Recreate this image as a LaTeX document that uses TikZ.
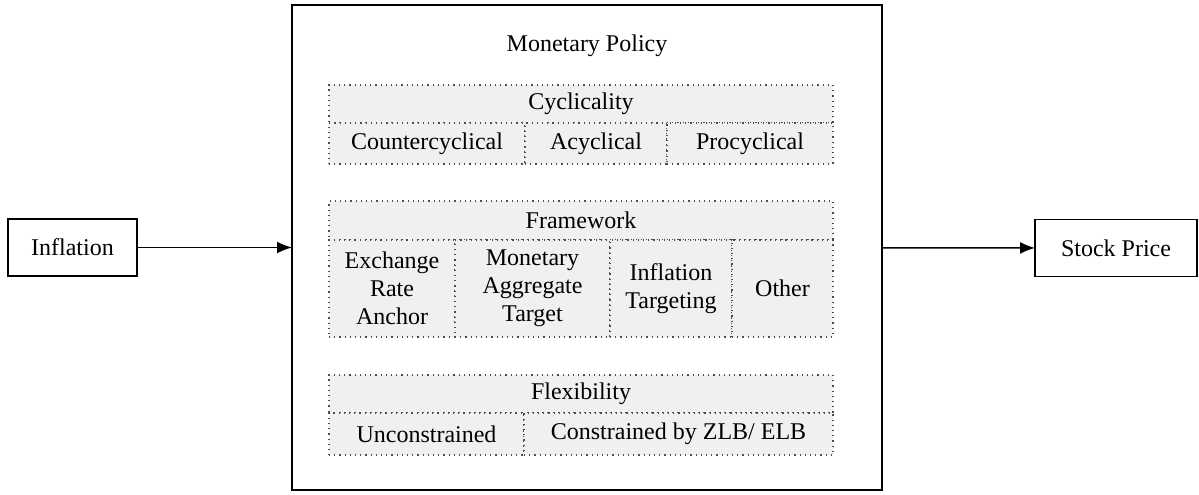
\documentclass[tikz,border=0pt]{standalone}
\usepackage{fontspec}
\setmainfont{Liberation Serif}
\usetikzlibrary{arrows.meta}
\begin{document}
\begin{tikzpicture}[x=0.5pt,y=-0.5pt,font=\fontsize{12}{14}\selectfont,
    box/.style={draw,line width=0.75pt,inner sep=0pt,outer sep=0pt,minimum height=28.5pt},
    cell/.style={draw=black!70,dotted,line width=0.6pt,fill=black!6,inner sep=0pt,outer sep=0pt,align=center},
    arr/.style={-{Latex[length=7.5pt,width=6pt]},line width=0.75pt}]
    \useasboundingbox (0,0) rectangle (1199,494);
    \node[box,minimum width=64.5pt] (infl) at (72.5,247.5) {Inflation};
    \node[box,minimum width=81pt] (stock) at (1116,248) {Stock Price};
    \node[draw,line width=1pt,inner sep=0pt,outer sep=0pt,minimum width=295pt,minimum height=242.5pt] (mp) at (587,247.5) {};
    \node (mptitle) at (587,46) {Monetary Policy};
    \node[cell,minimum width=252pt,minimum height=19pt] (cyc) at (581,104) {Cyclicality};
    \node[cell,minimum width=98pt,minimum height=20.5pt] (counter) at (427,143.5) {Countercyclical};
    \node[cell,minimum width=71pt,minimum height=20.5pt] (acyc) at (596,143.5) {Acyclical};
    \node[cell,minimum width=83pt,minimum height=20.5pt] (procyc) at (750,143.5) {Procyclical};
    \node[cell,minimum width=252pt,minimum height=19.5pt] (frame) at (581,220.5) {Framework};
    \node[cell,minimum width=63pt,minimum height=48.5pt] (exch) at (392,288.5) {Exchange\\Rate\\Anchor};
    \node[cell,minimum width=77.5pt,minimum height=48.5pt] (aggr) at (532.5,288.5) {Monetary\\Aggregate\\Target};
    \node[cell,minimum width=61pt,minimum height=48.5pt] (target) at (671,288.5) {Inflation\\Targeting};
    \node[cell,minimum width=50.5pt,minimum height=48.5pt] (other) at (782.5,288.5) {Other};
    \node[cell,minimum width=252pt,minimum height=19pt] (flex) at (581,394) {Flexibility};
    \node[cell,minimum width=97.5pt,minimum height=21pt] (uncon) at (426.5,434) {Unconstrained};
    \node[cell,minimum width=154.5pt,minimum height=21pt] (con) at (678.5,434) {Constrained by ZLB/ ELB};
    \draw[arr] (infl) -- (mp);
    \draw[arr] (mp) -- (stock);
\end{tikzpicture}
\end{document}
